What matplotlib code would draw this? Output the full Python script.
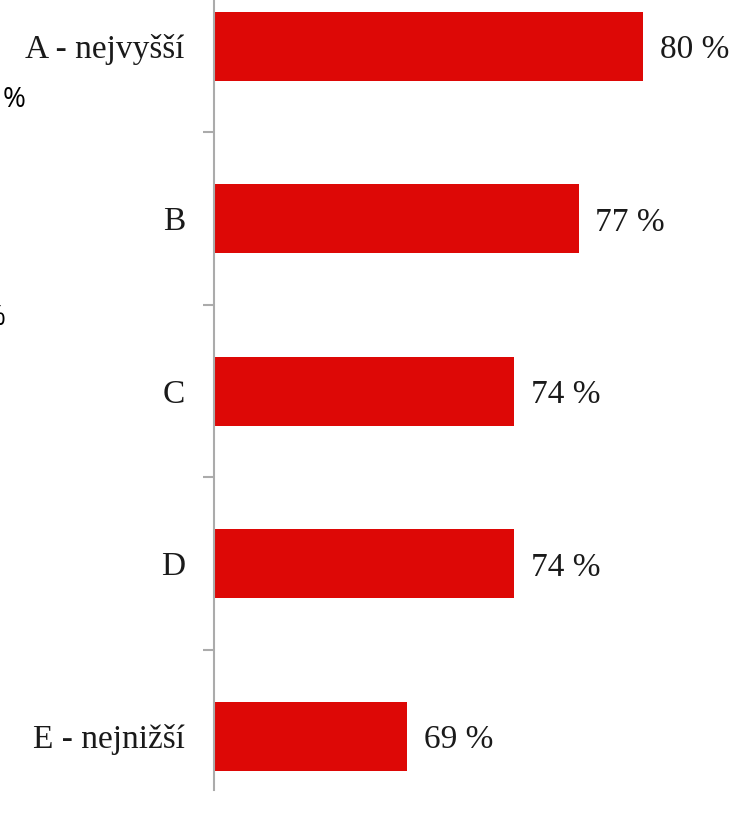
import numpy as np
import matplotlib.pyplot as plt
from matplotlib.ticker import FixedLocator

categories = ['A - nejvyšší', 'B', 'C', 'D', 'E - nejnižší']
values = [80, 77, 74, 74, 69]
value_labels = ['80 %', '77 %', '74 %', '74 %', '69 %']

bar_color = '#DD0806'
axis_color = '#ABABAB'
text_color = '#1A1A1A'
serif = ['Liberation Serif', 'DejaVu Serif']

W, H = 744, 818
fig = plt.figure(figsize=(W / 100, H / 100), dpi=100)
ax = fig.add_axes([214 / W, 28 / H, (W - 214) / W, 790 / H])

y = np.arange(len(categories))
ax.barh(y, values, height=0.4, color=bar_color, left=0)

# axis starts at 60, so bars are cropped at the left spine
ax.set_xlim(60, 60 + 530 / 21.45)
ax.set_ylim(4.313, -0.267)

for yi, v, lab in zip(y, values, value_labels):
    ax.annotate(lab, (v, yi), xytext=(12, -3), textcoords='offset points',
                va='center', ha='left', fontsize=24, family=serif, color=text_color)

ax.set_yticks(y)
ax.set_yticklabels(categories, fontsize=24, family=serif, color=text_color)
ax.yaxis.set_minor_locator(FixedLocator([0.5, 1.5, 2.5, 3.5]))
ax.tick_params(axis='y', which='major', length=0, pad=21)
ax.tick_params(axis='y', which='minor', length=8, width=1.5, color=axis_color)
ax.set_xticks([])

for side in ['top', 'right', 'bottom']:
    ax.spines[side].set_visible(False)
ax.spines['left'].set_color(axis_color)
ax.spines['left'].set_linewidth(1.5)

# leftover percent signs from the neighbouring panel
fig.text(25 / W, 1 - 100 / H, '%', ha='right', va='center', fontsize=20,
         family=['Open Sans', 'DejaVu Sans'], color='black')
fig.text(5 / W, 1 - 318 / H, '%', ha='right', va='center', fontsize=20,
         family=['Open Sans', 'DejaVu Sans'], color='black')

fig.savefig('out.png', dpi=100)
